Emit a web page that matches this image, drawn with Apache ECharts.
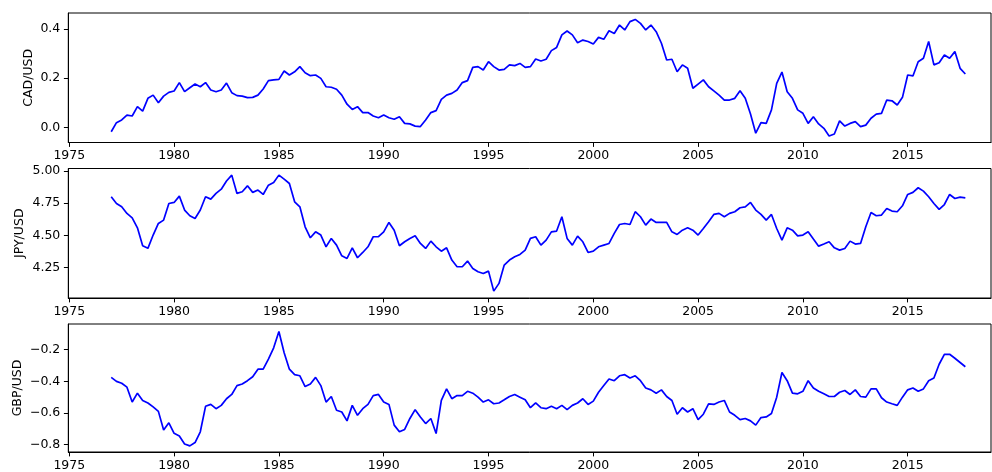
<!DOCTYPE html>
<html><head><meta charset="utf-8">
<script src="https://cdn.jsdelivr.net/npm/echarts@6.0.0/dist/echarts.min.js"></script>
<style>html,body{margin:0;padding:0;background:#fff}#c{width:992px;height:472px}</style>
</head><body><div id="c"></div>
<script>
// ---- data (quarterly readings, 1977 Q1 .. 2017 Q4) ----
const startYear = 1977;
const stepYears = 0.25;
const xTicks = [1975, 1980, 1985, 1990, 1995, 2000, 2005, 2010, 2015];
const cadTicks = [0.0, 0.2, 0.4];
const jpyTicks = [4.25, 4.50, 4.75, 5.00];
const gbpTicks = [-0.8, -0.6, -0.4, -0.2];

const cad = [
-0.018, 0.019, 0.030, 0.050,
0.046, 0.084, 0.066, 0.118,
0.131, 0.100, 0.127, 0.142,
0.148, 0.182, 0.145, 0.161,
0.176, 0.165, 0.182, 0.152,
0.145, 0.152, 0.180, 0.141,
0.129, 0.127, 0.121, 0.122,
0.131, 0.156, 0.190, 0.193,
0.195, 0.229, 0.213, 0.226,
0.247, 0.222, 0.210, 0.213,
0.199, 0.165, 0.163, 0.155,
0.131, 0.094, 0.073, 0.084,
0.060, 0.060, 0.046, 0.039,
0.050, 0.039, 0.033, 0.043,
0.016, 0.014, 0.005, 0.003,
0.030, 0.060, 0.068, 0.114,
0.131, 0.138, 0.152, 0.182,
0.190, 0.244, 0.247, 0.233,
0.267, 0.247, 0.233, 0.236,
0.254, 0.251, 0.260, 0.244,
0.247, 0.278, 0.270, 0.277,
0.312, 0.325, 0.376, 0.392,
0.376, 0.344, 0.355, 0.349,
0.339, 0.366, 0.358, 0.393,
0.382, 0.416, 0.396, 0.430,
0.439, 0.423, 0.396, 0.416,
0.389, 0.342, 0.274, 0.277,
0.226, 0.254, 0.240, 0.159,
0.176, 0.193, 0.165, 0.148,
0.131, 0.111, 0.111, 0.118,
0.149, 0.118, 0.054, -0.024,
0.019, 0.016, 0.071, 0.179,
0.225, 0.145, 0.118, 0.071,
0.057, 0.016, 0.043, 0.014,
-0.004, -0.035, -0.027, 0.026,
0.005, 0.016, 0.023, 0.003,
0.009, 0.037, 0.054, 0.057,
0.111, 0.108, 0.091, 0.122,
0.213, 0.209, 0.267, 0.281,
0.349, 0.254, 0.263, 0.294,
0.281, 0.308, 0.240, 0.217
];

const jpy = [
4.800, 4.748, 4.722, 4.671,
4.637, 4.559, 4.420, 4.400,
4.503, 4.593, 4.619, 4.748,
4.756, 4.805, 4.697, 4.653,
4.632, 4.697, 4.800, 4.782,
4.826, 4.859, 4.922, 4.968,
4.826, 4.839, 4.885, 4.834,
4.852, 4.818, 4.890, 4.911,
4.968, 4.937, 4.903, 4.761,
4.722, 4.567, 4.482, 4.528,
4.503, 4.412, 4.477, 4.425,
4.342, 4.322, 4.404, 4.327,
4.368, 4.412, 4.490, 4.490,
4.528, 4.601, 4.541, 4.420,
4.451, 4.477, 4.497, 4.438,
4.399, 4.456, 4.412, 4.378,
4.404, 4.309, 4.257, 4.257,
4.301, 4.244, 4.218, 4.205,
4.223, 4.068, 4.128, 4.270,
4.309, 4.334, 4.353, 4.386,
4.477, 4.490, 4.425, 4.464,
4.528, 4.534, 4.645, 4.477,
4.425, 4.495, 4.451, 4.368,
4.378, 4.412, 4.425, 4.438,
4.516, 4.585, 4.593, 4.585,
4.684, 4.645, 4.580, 4.627,
4.601, 4.601, 4.601, 4.528,
4.508, 4.541, 4.559, 4.541,
4.503, 4.554, 4.606, 4.663,
4.671, 4.645, 4.671, 4.684,
4.715, 4.722, 4.756, 4.697,
4.663, 4.619, 4.663, 4.554,
4.464, 4.559, 4.541, 4.497,
4.503, 4.528, 4.472, 4.417,
4.433, 4.451, 4.404, 4.386,
4.399, 4.456, 4.433, 4.438,
4.567, 4.678, 4.653, 4.658,
4.709, 4.689, 4.684, 4.730,
4.818, 4.834, 4.870, 4.844,
4.800, 4.748, 4.702, 4.740,
4.818, 4.787, 4.797, 4.792
];

const gbp = [
-0.375, -0.400, -0.412, -0.437,
-0.531, -0.475, -0.521, -0.537,
-0.562, -0.590, -0.708, -0.662,
-0.729, -0.746, -0.796, -0.808,
-0.787, -0.719, -0.558, -0.546,
-0.573, -0.552, -0.510, -0.483,
-0.427, -0.417, -0.396, -0.371,
-0.323, -0.323, -0.260, -0.188,
-0.085, -0.219, -0.323, -0.358,
-0.365, -0.433, -0.417, -0.375,
-0.427, -0.531, -0.496, -0.583,
-0.594, -0.650, -0.552, -0.615,
-0.573, -0.546, -0.490, -0.483,
-0.531, -0.546, -0.677, -0.719,
-0.704, -0.635, -0.579, -0.625,
-0.667, -0.635, -0.730, -0.521,
-0.448, -0.510, -0.490, -0.490,
-0.463, -0.475, -0.500, -0.531,
-0.517, -0.542, -0.537, -0.517,
-0.496, -0.483, -0.500, -0.517,
-0.567, -0.537, -0.567, -0.573,
-0.558, -0.573, -0.552, -0.579,
-0.552, -0.537, -0.510, -0.546,
-0.525, -0.469, -0.427, -0.385,
-0.396, -0.365, -0.358, -0.379,
-0.365, -0.396, -0.442, -0.454,
-0.475, -0.454, -0.496, -0.521,
-0.608, -0.567, -0.594, -0.573,
-0.642, -0.608, -0.542, -0.546,
-0.531, -0.521, -0.594, -0.615,
-0.642, -0.635, -0.650, -0.677,
-0.629, -0.625, -0.604, -0.500,
-0.344, -0.396, -0.475, -0.479,
-0.463, -0.396, -0.442, -0.463,
-0.479, -0.496, -0.496, -0.469,
-0.458, -0.483, -0.454, -0.496,
-0.500, -0.448, -0.448, -0.504,
-0.531, -0.542, -0.552, -0.500,
-0.454, -0.442, -0.463, -0.448,
-0.396, -0.379, -0.292, -0.229,
-0.229, -0.254, -0.281, -0.308
];

// ---- chart ----
const dates = cad.map((_, i) => startYear + i * stepYears);
const toPairs = v => v.map((y, i) => [dates[i], y]);
const FONT = 'DejaVu Sans';
const FS = 12.5;

const panels = [
  { name: 'CAD/USD', values: cad, ticks: cadTicks, dec: 1, min: -0.0617, max: 0.4651, top: 13, gap: 33 },
  { name: 'JPY/USD', values: jpy, ticks: jpyTicks, dec: 2, min: 4.0147, max: 5.0194, top: 168.5, gap: 42 },
  { name: 'GBP/USD', values: gbp, ticks: gbpTicks, dec: 1, min: -0.8469, max: -0.0375, top: 324, gap: 44 }
];

const fmt = (v, d) => v.toFixed(d).replace('-', '\u2212');

const option = {
  animation: false,
  backgroundColor: '#fff',
  textStyle: { fontFamily: FONT },
  grid: panels.map(p => ({
    left: 68.3, top: p.top, width: 922.7, height: 129.5,
    show: true, borderColor: '#000', borderWidth: 1, containLabel: false
  })),
  xAxis: panels.map((p, i) => ({
    type: 'value', gridIndex: i, min: 1974.952, max: 2018.974,
    splitLine: { show: false },
    axisLine: { show: true, onZero: false, lineStyle: { color: '#000', width: 1 } },
    axisTick: { show: true, length: 4.4, customValues: xTicks, lineStyle: { color: '#000', width: 1 } },
    axisLabel: { customValues: xTicks, margin: 7, color: '#000', fontSize: FS, fontFamily: FONT,
      formatter: v => String(Math.round(v)) }
  })),
  yAxis: panels.map((p, i) => ({
    type: 'value', gridIndex: i, min: p.min, max: p.max,
    name: p.name, nameLocation: 'middle', nameGap: p.gap, nameMoveOverlap: false,
    nameTextStyle: { color: '#000', fontSize: FS, fontFamily: FONT },
    splitLine: { show: false },
    axisLine: { show: true, onZero: false, lineStyle: { color: '#000', width: 1 } },
    axisTick: { show: true, length: 4.4, customValues: p.ticks, lineStyle: { color: '#000', width: 1 } },
    axisLabel: { customValues: p.ticks, margin: 8, color: '#000', fontSize: FS, fontFamily: FONT,
      formatter: v => fmt(v, p.dec) }
  })),
  series: panels.map((p, i) => ({
    type: 'line', xAxisIndex: i, yAxisIndex: i,
    data: toPairs(p.values),
    showSymbol: false, symbol: 'none',
    lineStyle: { color: '#0000ff', width: 1.7 },
    clip: true
  }))
};

const chart = echarts.init(document.getElementById('c'), null, { renderer: 'canvas' });
chart.setOption(option);
</script>
</body></html>
